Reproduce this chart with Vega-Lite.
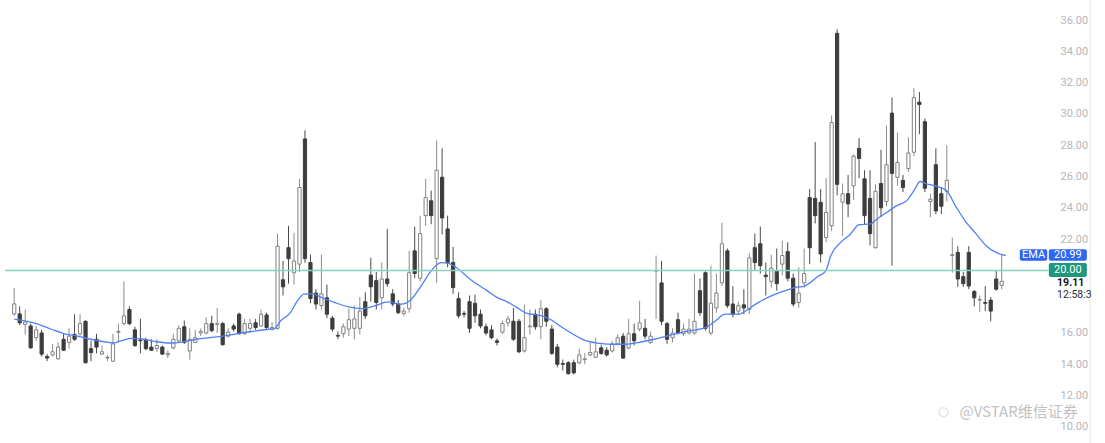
{
"$schema": "https://vega.github.io/schema/vega-lite/v6.json",
"width": 1105, "height": 443, "padding": 0, "autosize": {"type": "none"},
"background": "white",
"config": {"view": {"stroke": null}, "font": "Roboto"},
"datasets": {
"candles": [
{"i":0,"o":17.22,"c":17.86,"h":18.88,"l":17.1},
{"i":1,"o":17.22,"c":16.65,"h":17.7,"l":16.5},
{"i":2,"o":16.55,"c":16.7,"h":17.5,"l":15.9},
{"i":3,"o":16.45,"c":15.05,"h":16.6,"l":15.0},
{"i":4,"o":15.7,"c":16.2,"h":16.45,"l":15.5},
{"i":5,"o":16.0,"c":14.65,"h":16.2,"l":14.5},
{"i":6,"o":14.5,"c":14.4,"h":14.65,"l":14.2},
{"i":7,"o":14.6,"c":14.8,"h":15.3,"l":14.5},
{"i":8,"o":14.35,"c":15.1,"h":15.4,"l":14.3},
{"i":9,"o":15.6,"c":14.9,"h":15.95,"l":14.85},
{"i":10,"o":15.4,"c":15.8,"h":16.3,"l":15.0},
{"i":11,"o":15.9,"c":15.6,"h":17.2,"l":15.5},
{"i":12,"o":15.95,"c":16.6,"h":17.2,"l":15.8},
{"i":13,"o":16.75,"c":14.1,"h":16.8,"l":14.05},
{"i":14,"o":15.0,"c":14.75,"h":15.5,"l":14.2},
{"i":15,"o":15.6,"c":15.1,"h":15.95,"l":14.7},
{"i":16,"o":14.65,"c":14.8,"h":15.2,"l":14.6},
{"i":17,"o":14.4,"c":14.45,"h":14.6,"l":14.2},
{"i":18,"o":14.2,"c":15.3,"h":15.95,"l":14.15},
{"i":19,"o":16.05,"c":16.1,"h":16.6,"l":15.4},
{"i":20,"o":16.6,"c":17.1,"h":19.3,"l":16.5},
{"i":21,"o":17.5,"c":16.6,"h":17.7,"l":16.5},
{"i":22,"o":16.2,"c":15.2,"h":16.4,"l":15.1},
{"i":23,"o":15.55,"c":15.5,"h":16.9,"l":14.7},
{"i":24,"o":15.55,"c":15.0,"h":15.7,"l":14.9},
{"i":25,"o":15.1,"c":14.9,"h":15.6,"l":14.85},
{"i":26,"o":15.0,"c":15.2,"h":15.6,"l":14.8},
{"i":27,"o":15.1,"c":14.65,"h":15.2,"l":14.6},
{"i":28,"o":14.6,"c":14.7,"h":14.9,"l":14.4},
{"i":29,"o":15.05,"c":15.6,"h":15.95,"l":14.95},
{"i":30,"o":15.5,"c":16.3,"h":16.5,"l":15.4},
{"i":31,"o":16.4,"c":15.4,"h":16.8,"l":15.3},
{"i":32,"o":14.85,"c":15.6,"h":16.3,"l":14.3},
{"i":33,"o":15.4,"c":15.7,"h":16.2,"l":15.35},
{"i":34,"o":16.0,"c":16.1,"h":16.3,"l":15.8},
{"i":35,"o":16.0,"c":16.6,"h":17.0,"l":15.9},
{"i":36,"o":16.6,"c":16.15,"h":17.1,"l":16.05},
{"i":37,"o":16.55,"c":16.6,"h":17.6,"l":16.0},
{"i":38,"o":16.6,"c":15.25,"h":16.7,"l":15.2},
{"i":39,"o":15.8,"c":16.05,"h":16.3,"l":15.7},
{"i":40,"o":16.45,"c":16.25,"h":16.6,"l":16.1},
{"i":41,"o":17.2,"c":15.95,"h":17.3,"l":15.9},
{"i":42,"o":15.95,"c":16.6,"h":16.9,"l":15.9},
{"i":43,"o":16.3,"c":16.6,"h":16.9,"l":16.0},
{"i":44,"o":16.65,"c":16.35,"h":16.9,"l":16.2},
{"i":45,"o":16.45,"c":17.2,"h":17.5,"l":16.4},
{"i":46,"o":17.15,"c":16.35,"h":17.3,"l":16.2},
{"i":47,"o":16.25,"c":16.35,"h":16.7,"l":16.15},
{"i":48,"o":16.3,"c":21.55,"h":22.35,"l":16.2},
{"i":49,"o":19.4,"c":18.95,"h":20.6,"l":18.4},
{"i":50,"o":21.45,"c":20.75,"h":22.85,"l":19.15},
{"i":51,"o":19.85,"c":20.6,"h":22.4,"l":19.1},
{"i":52,"o":20.4,"c":25.3,"h":25.85,"l":19.9},
{"i":53,"o":28.4,"c":20.75,"h":28.95,"l":20.5},
{"i":54,"o":20.5,"c":18.2,"h":21.0,"l":17.9},
{"i":55,"o":18.55,"c":17.85,"h":18.8,"l":17.5},
{"i":56,"o":17.75,"c":18.5,"h":21.0,"l":17.5},
{"i":57,"o":18.25,"c":17.2,"h":19.1,"l":16.95},
{"i":58,"o":16.95,"c":16.25,"h":17.1,"l":16.1},
{"i":59,"o":15.85,"c":15.8,"h":16.1,"l":15.6},
{"i":60,"o":15.95,"c":16.4,"h":16.6,"l":15.7},
{"i":61,"o":16.25,"c":16.85,"h":17.55,"l":15.8},
{"i":62,"o":16.3,"c":16.9,"h":17.75,"l":15.6},
{"i":63,"o":16.3,"c":17.4,"h":18.3,"l":15.9},
{"i":64,"o":18.0,"c":17.1,"h":18.6,"l":16.9},
{"i":65,"o":19.7,"c":18.95,"h":20.8,"l":18.0},
{"i":66,"o":19.35,"c":17.95,"h":19.9,"l":17.5},
{"i":67,"o":18.25,"c":19.45,"h":20.5,"l":17.5},
{"i":68,"o":19.45,"c":19.15,"h":22.65,"l":18.95},
{"i":69,"o":18.5,"c":17.85,"h":18.8,"l":17.7},
{"i":70,"o":17.85,"c":17.3,"h":18.1,"l":17.2},
{"i":71,"o":17.25,"c":17.4,"h":17.6,"l":17.1},
{"i":72,"o":17.55,"c":19.85,"h":21.25,"l":17.3},
{"i":73,"o":21.25,"c":19.8,"h":22.8,"l":19.5},
{"i":74,"o":19.5,"c":22.35,"h":23.5,"l":19.3},
{"i":75,"o":23.5,"c":24.65,"h":25.85,"l":22.85},
{"i":76,"o":24.45,"c":23.5,"h":25.1,"l":22.95},
{"i":77,"o":20.75,"c":26.4,"h":28.3,"l":19.2},
{"i":78,"o":25.95,"c":23.35,"h":27.8,"l":22.3},
{"i":79,"o":22.65,"c":20.5,"h":23.5,"l":20.2},
{"i":80,"o":20.5,"c":18.9,"h":21.5,"l":18.5},
{"i":81,"o":18.2,"c":17.1,"h":18.6,"l":16.95},
{"i":82,"o":17.25,"c":17.2,"h":17.4,"l":17.0},
{"i":83,"o":18.0,"c":16.3,"h":18.4,"l":16.0},
{"i":84,"o":17.9,"c":17.1,"h":18.45,"l":16.65},
{"i":85,"o":17.2,"c":16.45,"h":17.5,"l":16.3},
{"i":86,"o":16.4,"c":16.0,"h":16.6,"l":15.85},
{"i":87,"o":16.2,"c":15.7,"h":16.5,"l":15.6},
{"i":88,"o":15.5,"c":15.4,"h":15.65,"l":15.2},
{"i":89,"o":16.05,"c":16.6,"h":16.8,"l":15.95},
{"i":90,"o":16.65,"c":16.9,"h":17.1,"l":16.4},
{"i":91,"o":16.75,"c":15.6,"h":17.6,"l":15.5},
{"i":92,"o":16.75,"c":14.8,"h":16.9,"l":14.7},
{"i":93,"o":14.85,"c":15.7,"h":17.8,"l":14.75},
{"i":94,"o":16.4,"c":16.45,"h":17.5,"l":15.9},
{"i":95,"o":17.2,"c":16.4,"h":17.5,"l":16.2},
{"i":96,"o":16.4,"c":17.55,"h":18.1,"l":15.6},
{"i":97,"o":17.55,"c":16.75,"h":17.65,"l":16.4},
{"i":98,"o":16.25,"c":14.7,"h":16.5,"l":14.6},
{"i":99,"o":15.1,"c":14.0,"h":15.3,"l":13.8},
{"i":100,"o":14.05,"c":14.0,"h":14.3,"l":13.6},
{"i":101,"o":14.1,"c":13.4,"h":14.2,"l":13.35},
{"i":102,"o":14.1,"c":13.45,"h":14.3,"l":13.35},
{"i":103,"o":14.1,"c":14.6,"h":15.0,"l":14.0},
{"i":104,"o":14.3,"c":14.35,"h":14.7,"l":14.0},
{"i":105,"o":14.6,"c":14.75,"h":15.4,"l":14.5},
{"i":106,"o":14.45,"c":14.8,"h":15.7,"l":14.4},
{"i":107,"o":15.05,"c":14.7,"h":15.25,"l":14.6},
{"i":108,"o":14.9,"c":14.6,"h":15.1,"l":14.5},
{"i":109,"o":14.85,"c":15.3,"h":15.5,"l":14.75},
{"i":110,"o":15.3,"c":15.7,"h":15.9,"l":15.2},
{"i":111,"o":15.8,"c":14.4,"h":16.0,"l":14.35},
{"i":112,"o":15.05,"c":15.95,"h":16.9,"l":14.95},
{"i":113,"o":15.95,"c":15.5,"h":16.6,"l":15.2},
{"i":114,"o":16.25,"c":16.65,"h":18.05,"l":16.1},
{"i":115,"o":16.3,"c":15.8,"h":16.9,"l":15.6},
{"i":116,"o":15.4,"c":15.8,"h":16.1,"l":15.3},
{"i":117,"o":19.95,"c":20.0,"h":20.95,"l":16.9},
{"i":118,"o":19.2,"c":16.75,"h":20.6,"l":16.5},
{"i":119,"o":16.6,"c":15.6,"h":16.7,"l":15.3},
{"i":120,"o":15.7,"c":16.0,"h":16.3,"l":15.4},
{"i":121,"o":16.85,"c":16.0,"h":17.3,"l":15.9},
{"i":122,"o":15.95,"c":16.25,"h":16.6,"l":15.8},
{"i":123,"o":16.0,"c":16.25,"h":16.9,"l":15.9},
{"i":124,"o":16.0,"c":16.75,"h":19.8,"l":15.9},
{"i":125,"o":18.7,"c":17.3,"h":19.5,"l":17.1},
{"i":126,"o":19.85,"c":16.3,"h":19.95,"l":16.15},
{"i":127,"o":16.0,"c":17.9,"h":20.3,"l":15.85},
{"i":128,"o":17.6,"c":18.55,"h":19.8,"l":17.3},
{"i":129,"o":19.2,"c":21.7,"h":23.05,"l":19.0},
{"i":130,"o":21.25,"c":17.75,"h":21.4,"l":17.6},
{"i":131,"o":17.85,"c":17.2,"h":19.0,"l":17.0},
{"i":132,"o":17.4,"c":17.75,"h":18.0,"l":17.2},
{"i":133,"o":17.8,"c":17.6,"h":18.8,"l":17.2},
{"i":134,"o":17.5,"c":20.8,"h":21.1,"l":17.2},
{"i":135,"o":21.45,"c":20.5,"h":22.35,"l":20.0},
{"i":136,"o":21.7,"c":20.3,"h":22.8,"l":19.8},
{"i":137,"o":19.7,"c":19.6,"h":20.5,"l":18.4},
{"i":138,"o":19.3,"c":20.15,"h":21.0,"l":18.9},
{"i":139,"o":19.95,"c":19.15,"h":21.4,"l":18.7},
{"i":140,"o":20.4,"c":20.95,"h":21.9,"l":19.7},
{"i":141,"o":21.2,"c":19.5,"h":21.8,"l":19.3},
{"i":142,"o":19.5,"c":17.85,"h":19.8,"l":17.7},
{"i":143,"o":17.95,"c":18.55,"h":20.2,"l":17.6},
{"i":144,"o":19.2,"c":19.8,"h":21.4,"l":18.9},
{"i":145,"o":24.65,"c":21.45,"h":25.2,"l":20.4},
{"i":146,"o":24.6,"c":23.5,"h":28.2,"l":23.0},
{"i":147,"o":24.35,"c":21.05,"h":25.2,"l":20.5},
{"i":148,"o":22.1,"c":23.7,"h":25.9,"l":21.8},
{"i":149,"o":22.85,"c":29.45,"h":29.9,"l":22.5},
{"i":150,"o":35.15,"c":25.5,"h":35.4,"l":24.8},
{"i":151,"o":24.35,"c":24.9,"h":25.55,"l":22.2},
{"i":152,"o":24.9,"c":24.25,"h":26.1,"l":23.4},
{"i":153,"o":25.4,"c":27.3,"h":27.4,"l":24.5},
{"i":154,"o":27.8,"c":27.15,"h":28.45,"l":25.9},
{"i":155,"o":25.85,"c":23.5,"h":26.4,"l":22.9},
{"i":156,"o":24.6,"c":22.35,"h":26.4,"l":21.6},
{"i":157,"o":21.45,"c":25.05,"h":25.5,"l":21.4},
{"i":158,"o":25.55,"c":24.0,"h":27.7,"l":23.4},
{"i":159,"o":24.4,"c":26.75,"h":29.25,"l":24.1},
{"i":160,"o":30.05,"c":26.2,"h":31.05,"l":20.3},
{"i":161,"o":25.95,"c":26.9,"h":28.8,"l":25.4},
{"i":162,"o":25.75,"c":25.3,"h":26.1,"l":25.0},
{"i":163,"o":26.5,"c":27.5,"h":28.5,"l":26.3},
{"i":164,"o":27.55,"c":31.05,"h":31.65,"l":27.3},
{"i":165,"o":30.75,"c":30.6,"h":31.4,"l":28.7},
{"i":166,"o":29.5,"c":25.25,"h":29.7,"l":25.0},
{"i":167,"o":24.4,"c":24.55,"h":24.9,"l":23.4},
{"i":168,"o":26.75,"c":23.8,"h":27.8,"l":23.6},
{"i":169,"o":24.9,"c":24.1,"h":25.3,"l":23.6},
{"i":170,"o":25.05,"c":25.75,"h":28.0,"l":24.4},
{"i":171,"o":20.95,"c":21.0,"h":22.1,"l":19.85},
{"i":172,"o":21.15,"c":19.45,"h":21.55,"l":18.95},
{"i":173,"o":19.6,"c":19.15,"h":19.9,"l":18.95},
{"i":174,"o":21.15,"c":19.0,"h":21.55,"l":18.8},
{"i":175,"o":18.65,"c":18.25,"h":18.75,"l":17.7},
{"i":176,"o":18.1,"c":18.15,"h":18.4,"l":17.35},
{"i":177,"o":17.95,"c":17.9,"h":19.0,"l":17.4},
{"i":178,"o":18.1,"c":17.4,"h":18.3,"l":16.75},
{"i":179,"o":19.45,"c":18.8,"h":20.0,"l":18.7},
{"i":180,"o":19.05,"c":19.3,"h":21.0,"l":18.8}
],
"ema": [
{"i":0,"v":16.88},{"i":1.93,"v":16.77},{"i":4.34,"v":16.56},{"i":6.76,"v":16.24},{"i":9.16,"v":15.95},
{"i":11.56,"v":15.8},{"i":13.98,"v":15.6},{"i":16.38,"v":15.44},{"i":17.88,"v":15.36},{"i":19.4,"v":15.49},
{"i":21.21,"v":15.66},{"i":23.61,"v":15.6},{"i":26.01,"v":15.44},{"i":28.43,"v":15.36},{"i":30.83,"v":15.44},
{"i":33.24,"v":15.6},{"i":35.66,"v":15.7},{"i":38.06,"v":15.8},{"i":40.46,"v":15.95},{"i":42.88,"v":16.08},
{"i":46.5,"v":16.24},{"i":47.4,"v":16.27},{"i":48.54,"v":16.77},{"i":50.34,"v":17.3},{"i":51.61,"v":18.05},
{"i":52.82,"v":18.48},{"i":54.32,"v":18.5},{"i":56.12,"v":18.26},{"i":58.47,"v":17.94},{"i":60.95,"v":17.67},
{"i":63.35,"v":17.56},{"i":65.7,"v":17.73},{"i":68.17,"v":17.99},{"i":70.58,"v":17.84},{"i":72.38,"v":18.16},
{"i":74.19,"v":19.01},{"i":75.99,"v":19.97},{"i":77.8,"v":20.5},{"i":79.01,"v":20.47},{"i":80.51,"v":20.2},
{"i":83.22,"v":19.4},{"i":86.24,"v":18.69},{"i":88.04,"v":18.26},{"i":89.85,"v":17.99},{"i":91.66,"v":17.62},
{"i":93.46,"v":17.26},{"i":95.86,"v":17.13},{"i":97.67,"v":16.88},{"i":99.48,"v":16.45},{"i":101.88,"v":15.92},
{"i":104.3,"v":15.49},{"i":106.7,"v":15.34},{"i":109.1,"v":15.28},{"i":111.52,"v":15.28},{"i":113.93,"v":15.4},
{"i":116.64,"v":15.6},{"i":119.94,"v":15.9},{"i":122.96,"v":16.13},{"i":125.97,"v":16.34},{"i":127.78,"v":16.77},
{"i":129.59,"v":17.2},{"i":131.99,"v":17.2},{"i":133.8,"v":17.52},{"i":135.6,"v":17.94},{"i":138.01,"v":18.37},
{"i":140.43,"v":18.69},{"i":142.23,"v":18.9},{"i":144.04,"v":19.0},{"i":146.44,"v":19.6},{"i":147.94,"v":19.97},
{"i":148.84,"v":20.94},{"i":150.65,"v":21.79},{"i":152.46,"v":22.33},{"i":153.97,"v":22.92},{"i":156.07,"v":22.97},
{"i":157.28,"v":23.29},{"i":159.09,"v":23.72},{"i":160.89,"v":24.14},{"i":162.7,"v":24.46},{"i":164.2,"v":25.21},
{"i":165.1,"v":25.68},{"i":166.31,"v":25.53},{"i":168.11,"v":25.38},{"i":169.92,"v":25.1},{"i":171.73,"v":24.03},
{"i":173.53,"v":23.07},{"i":175.34,"v":22.33},{"i":177.15,"v":21.58},{"i":178.95,"v":21.15},{"i":180.76,"v":20.94}
]
},
"layer": [
{
"data": {"name": "candles"},
"mark": {"type": "rule", "strokeWidth": 1},
"encoding": {
"x": {"field": "i", "type": "quantitative", "scale": {"domain": [-1.68, 197.92], "nice": false, "zero": false}, "axis": null},
"y": {"field": "l", "type": "quantitative", "scale": {"domain": [8.971, 37.278], "nice": false, "zero": false},
"axis": {"orient": "right", "title": null, "values": [10,12,14,16,22,24,26,28,30,32,34,36], "format": ".2f", "grid": false, "domain": false, "ticks": false, "tickSize": 0, "labelAlign": "left", "labelPadding": -45, "labelColor": "#b3b6bd", "labelFontSize": 11, "labelFont": "Roboto"}},
"y2": {"field": "h"},
"color": {"condition": {"test": "datum.c >= datum.o", "value": "#8c8c8c"}, "value": "#4a4a4a"}
}
},
{
"data": {"name": "candles"},
"mark": {"type": "bar", "size": 3.2, "strokeWidth": 1},
"encoding": {
"x": {"field": "i", "type": "quantitative", "scale": {"domain": [-1.68, 197.92], "nice": false, "zero": false}, "axis": null},
"y": {"field": "o", "type": "quantitative", "scale": {"domain": [8.971, 37.278], "nice": false, "zero": false}},
"y2": {"field": "c"},
"fill": {"condition": {"test": "datum.c >= datum.o", "value": "#ffffff"}, "value": "#3d3d3d"},
"stroke": {"condition": {"test": "datum.c >= datum.o", "value": "#808080"}, "value": "#3d3d3d"}
}
},
{
"data": {"name": "ema"},
"mark": {"type": "line", "color": "#4f80f5", "strokeWidth": 1.3, "interpolate": "monotone"},
"encoding": {
"x": {"field": "i", "type": "quantitative", "scale": {"domain": [-1.68, 197.92], "nice": false, "zero": false}, "axis": null},
"y": {"field": "v", "type": "quantitative", "scale": {"domain": [8.971, 37.278], "nice": false, "zero": false}}
}
},
{
"data": {"values": [{}]},
"mark": {"type": "rule", "color": "#84d3c2", "strokeWidth": 1.5},
"encoding": {
"x": {"datum": -1.68, "type": "quantitative", "scale": {"domain": [-1.68, 197.92], "nice": false, "zero": false}, "axis": null},
"x2": {"datum": 188.5},
"y": {"datum": 20, "type": "quantitative", "scale": {"domain": [8.971, 37.278], "nice": false, "zero": false}}
}
},
{
"data": {"values": [{}]},
"mark": {"type": "rule", "color": "#e3e3e3", "strokeWidth": 1},
"encoding": {
"x": {"datum": 196.12, "type": "quantitative", "scale": {"domain": [-1.68, 197.92], "nice": false, "zero": false}, "axis": null}
}
},
{
"data": {"values": [{}]},
"mark": {"type": "rect", "color": "#2f66f2", "cornerRadius": 2},
"encoding": {
"x": {"datum": 183.3, "type": "quantitative", "scale": {"domain": [-1.68, 197.92], "nice": false, "zero": false}, "axis": null},
"x2": {"datum": 188.3},
"y": {"datum": 21.35, "type": "quantitative", "scale": {"domain": [8.971, 37.278], "nice": false, "zero": false}},
"y2": {"datum": 20.62}
}
},
{
"data": {"values": [{}]},
"mark": {"type": "rect", "color": "#2f66f2", "cornerRadius": 2},
"encoding": {
"x": {"datum": 188.59, "type": "quantitative", "scale": {"domain": [-1.68, 197.92], "nice": false, "zero": false}, "axis": null},
"x2": {"datum": 195.52},
"y": {"datum": 21.35, "type": "quantitative", "scale": {"domain": [8.971, 37.278], "nice": false, "zero": false}},
"y2": {"datum": 20.62}
}
},
{
"data": {"values": [{}]},
"mark": {"type": "rect", "color": "#1f977a", "cornerRadius": 2},
"encoding": {
"x": {"datum": 188.59, "type": "quantitative", "scale": {"domain": [-1.68, 197.92], "nice": false, "zero": false}, "axis": null},
"x2": {"datum": 195.52},
"y": {"datum": 20.47, "type": "quantitative", "scale": {"domain": [8.971, 37.278], "nice": false, "zero": false}},
"y2": {"datum": 19.58}
}
},
{
"data": {"values": [{}]},
"mark": {"type": "text", "text": "EMA", "color": "#ffffff", "fontSize": 11, "align": "center", "baseline": "middle"},
"encoding": {
"x": {"datum": 185.8, "type": "quantitative", "scale": {"domain": [-1.68, 197.92], "nice": false, "zero": false}, "axis": null},
"y": {"datum": 20.98, "type": "quantitative", "scale": {"domain": [8.971, 37.278], "nice": false, "zero": false}}
}
},
{
"data": {"values": [{}]},
"mark": {"type": "text", "text": "20.99", "color": "#ffffff", "fontSize": 11, "align": "center", "baseline": "middle"},
"encoding": {
"x": {"datum": 192.05, "type": "quantitative", "scale": {"domain": [-1.68, 197.92], "nice": false, "zero": false}, "axis": null},
"y": {"datum": 20.98, "type": "quantitative", "scale": {"domain": [8.971, 37.278], "nice": false, "zero": false}}
}
},
{
"data": {"values": [{}]},
"mark": {"type": "text", "text": "20.00", "color": "#ffffff", "fontSize": 11, "align": "center", "baseline": "middle"},
"encoding": {
"x": {"datum": 192.05, "type": "quantitative", "scale": {"domain": [-1.68, 197.92], "nice": false, "zero": false}, "axis": null},
"y": {"datum": 20.03, "type": "quantitative", "scale": {"domain": [8.971, 37.278], "nice": false, "zero": false}}
}
},
{
"data": {"values": [{}]},
"mark": {"type": "text", "text": "19.11", "color": "#131722", "fontSize": 10.5, "fontWeight": "bold", "align": "left", "baseline": "middle"},
"encoding": {
"x": {"datum": 190.1, "type": "quantitative", "scale": {"domain": [-1.68, 197.92], "nice": false, "zero": false}, "axis": null},
"y": {"datum": 19.17, "type": "quantitative", "scale": {"domain": [8.971, 37.278], "nice": false, "zero": false}}
}
},
{
"data": {"values": [{}]},
"mark": {"type": "text", "text": "12:58:3", "color": "#2a2e39", "fontSize": 10.5, "align": "left", "baseline": "middle"},
"encoding": {
"x": {"datum": 190.1, "type": "quantitative", "scale": {"domain": [-1.68, 197.92], "nice": false, "zero": false}, "axis": null},
"y": {"datum": 18.43, "type": "quantitative", "scale": {"domain": [8.971, 37.278], "nice": false, "zero": false}}
}
},
{
"data": {"values": [{}]},
"mark": {"type": "text", "text": "@VSTAR维信证券", "color": "#c2c2c2", "fontSize": 15, "font": "Noto Sans CJK SC", "align": "left", "baseline": "middle"},
"encoding": {
"x": {"datum": 172.3, "type": "quantitative", "scale": {"domain": [-1.68, 197.92], "nice": false, "zero": false}, "axis": null},
"y": {"datum": 10.93, "type": "quantitative", "scale": {"domain": [8.971, 37.278], "nice": false, "zero": false}}
}
},
{
"data": {"values": [{}]},
"mark": {"type": "point", "shape": "circle", "size": 80, "stroke": "#d6d6d6", "strokeWidth": 1.2, "filled": false},
"encoding": {
"x": {"datum": 169.4, "type": "quantitative", "scale": {"domain": [-1.68, 197.92], "nice": false, "zero": false}, "axis": null},
"y": {"datum": 10.93, "type": "quantitative", "scale": {"domain": [8.971, 37.278], "nice": false, "zero": false}}
}
}
]
}
